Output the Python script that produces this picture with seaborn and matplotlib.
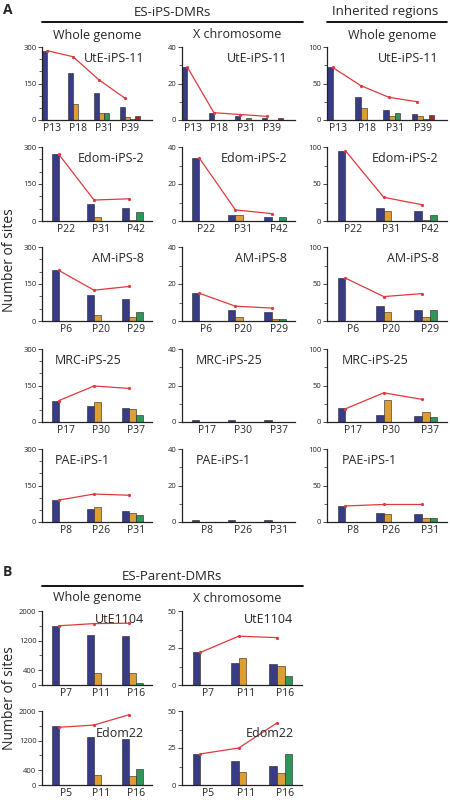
import matplotlib
matplotlib.use("Agg")
import matplotlib.pyplot as plt
import seaborn as sns
import pandas as pd
import numpy as np
from matplotlib.ticker import MultipleLocator, FixedLocator

sns.set_style("white")
plt.rcParams['font.family'] = ['Open Sans', 'DejaVu Sans']

series = ["s1", "s2", "s3", "s4"]
colors = ["#2b3192", "#f7a21b", "#1fa654", "#b5121b"]

# ---- Panel A data ----
ute_p = ["P13", "P18", "P31", "P39"]
ute_wg = [[285, 0, 0, 0], [195, 65, 0, 0], [110, 28, 28, 0], [55, 13, 5, 15]]
ute_wg_line = [285, 260, 165, 90]
ute_x = [[29, 0, 0, 0], [4, 0, 0, 0], [2, 0, 1, 0], [1, 0, 0, 1]]
ute_x_line = [29, 4, 3, 2]
ute_in = [[72, 0, 0, 0], [31, 16, 0, 0], [14, 6, 9, 0], [8, 6, 2, 7]]
ute_in_line = [72, 47, 31, 25]

edom_p = ["P22", "P31", "P42"]
edom_wg = [[270, 0, 0, 0], [70, 17, 0, 0], [53, 3, 35, 0]]
edom_wg_line = [270, 85, 90]
edom_x = [[34, 0, 0, 0], [3, 3, 0, 0], [2, 0, 2, 0]]
edom_x_line = [34, 6, 4]
edom_in = [[95, 0, 0, 0], [18, 14, 0, 0], [13, 2, 8, 0]]
edom_in_line = [95, 32, 22]

am_p = ["P6", "P20", "P29"]
am_wg = [[205, 0, 0, 0], [105, 23, 0, 0], [90, 15, 35, 0]]
am_wg_line = [205, 125, 140]
am_x = [[15, 0, 0, 0], [6, 2, 0, 0], [5, 1, 1, 0]]
am_x_line = [15, 8, 7]
am_in = [[58, 0, 0, 0], [20, 12, 0, 0], [15, 6, 15, 0]]
am_in_line = [58, 33, 37]

mrc_p = ["P17", "P30", "P37"]
mrc_wg = [[88, 0, 0, 0], [65, 83, 0, 0], [57, 55, 27, 0]]
mrc_wg_line = [88, 148, 138]
mrc_x = [[1, 0, 0, 0], [1, 0, 0, 0], [1, 0, 0, 0]]
mrc_x_line = None
mrc_in = [[19, 0, 0, 0], [10, 30, 0, 0], [8, 14, 7, 0]]
mrc_in_line = [18, 40, 31]

pae_p = ["P8", "P26", "P31"]
pae_wg = [[90, 0, 0, 0], [55, 60, 0, 0], [45, 35, 28, 0]]
pae_wg_line = [90, 115, 110]
pae_x = [[1, 0, 0, 0], [1, 0, 0, 0], [1, 0, 0, 0]]
pae_x_line = None
pae_in = [[22, 0, 0, 0], [12, 11, 0, 0], [11, 6, 6, 0]]
pae_in_line = [22, 24, 24]

# ---- Panel B data ----
ut1104_p = ["P7", "P11", "P16"]
ut1104_wg = [[1600, 0, 0, 0], [1340, 320, 0, 0], [1320, 320, 60, 0]]
ut1104_wg_line = [1600, 1660, 1670]
ut1104_x = [[22, 0, 0, 0], [15, 18, 0, 0], [14, 13, 6, 0]]
ut1104_x_line = [22, 33, 32]

edom22_p = ["P5", "P11", "P16"]
edom22_wg = [[1600, 0, 0, 0], [1300, 270, 0, 0], [1230, 230, 430, 0]]
edom22_wg_line = [1560, 1620, 1900]
edom22_x = [[21, 0, 0, 0], [16, 9, 0, 0], [13, 8, 21, 0]]
edom22_x_line = [21, 25, 42]

fig = plt.figure(figsize=(4.5, 8), dpi=100)
W, H = 450, 800


def add_ax(x0, y0, x1, y1):
    return fig.add_axes([x0 / W, 1 - y1 / H, (x1 - x0) / W, (y1 - y0) / H])


def panel(ax, passages, vals, line, ymax, major, minor, label, lab_left):
    rows = []
    for p, v in zip(passages, vals):
        for s, h in zip(series, v):
            rows.append((p, s, h if h > 0 else np.nan))
    df = pd.DataFrame(rows, columns=["p", "s", "v"])
    sns.barplot(data=df, x="p", y="v", hue="s", hue_order=series, order=passages,
                palette=colors, width=0.8, edgecolor="#222222", linewidth=0.4,
                legend=False, ax=ax)
    if line is not None:
        xs = np.arange(len(passages)) - 0.2
        ax.plot(xs, line, color="#e0393e", lw=0.9, marker="o", ms=1.3)
    n = len(passages)
    if n == 4:
        ax.set_xlim(-0.4, 3.85)
    else:
        ax.set_xlim(-0.68, 2.45)
    ax.set_ylim(0, ymax)
    ax.yaxis.set_major_locator(FixedLocator(major))
    ax.yaxis.set_minor_locator(MultipleLocator(minor))
    ax.tick_params(axis="y", which="major", length=3, width=0.6, labelsize=5.5, pad=1, left=True)
    ax.tick_params(axis="y", which="minor", length=2, width=0.5, left=True)
    ax.tick_params(axis="x", length=0, labelsize=7.5, pad=2)
    ax.set_xlabel("")
    ax.set_ylabel("")
    for s in ["top", "right"]:
        ax.spines[s].set_visible(False)
    for s in ["left", "bottom"]:
        ax.spines[s].set_color("#222222")
        ax.spines[s].set_linewidth(0.9)
    if lab_left:
        ax.text(0.12, 0.84, label, transform=ax.transAxes, ha="left", va="center", fontsize=9)
    else:
        ax.text(0.93, 0.84, label, transform=ax.transAxes, ha="right", va="center", fontsize=9)


colx = [(42, 152), (182, 295), (327, 447)]
rowy = [(47, 120), (147, 221), (247, 321), (349, 422), (449, 522)]
A = [
    ("UtE-iPS-11", ute_p, [(ute_wg, ute_wg_line), (ute_x, ute_x_line), (ute_in, ute_in_line)], False),
    ("Edom-iPS-2", edom_p, [(edom_wg, edom_wg_line), (edom_x, edom_x_line), (edom_in, edom_in_line)], False),
    ("AM-iPS-8", am_p, [(am_wg, am_wg_line), (am_x, am_x_line), (am_in, am_in_line)], False),
    ("MRC-iPS-25", mrc_p, [(mrc_wg, mrc_wg_line), (mrc_x, mrc_x_line), (mrc_in, mrc_in_line)], True),
    ("PAE-iPS-1", pae_p, [(pae_wg, pae_wg_line), (pae_x, pae_x_line), (pae_in, pae_in_line)], True),
]
scales = [(300, [0, 150, 300], 50), (40, [0, 20, 40], 10), (100, [0, 50, 100], 25)]
for r, (lab, ps, data, left) in enumerate(A):
    for c in range(3):
        ax = add_ax(colx[c][0], rowy[r][0], colx[c][1], rowy[r][1])
        vals, line = data[c]
        ymax, major, minor = scales[c]
        panel(ax, ps, vals, line, ymax, major, minor, lab, left)

colxB = [(42, 152), (182, 302)]
rowyB = [(611, 685), (711, 785)]
B = [
    ("UtE1104", ut1104_p, [(ut1104_wg, ut1104_wg_line), (ut1104_x, ut1104_x_line)]),
    ("Edom22", edom22_p, [(edom22_wg, edom22_wg_line), (edom22_x, edom22_x_line)]),
]
scalesB = [(2000, [0, 400, 1200, 2000], 400), (50, [0, 25, 50], 12.5)]
for r, (lab, ps, data) in enumerate(B):
    for c in range(2):
        ax = add_ax(colxB[c][0], rowyB[r][0], colxB[c][1], rowyB[r][1])
        vals, line = data[c]
        ymax, major, minor = scalesB[c]
        panel(ax, ps, vals, line, ymax, major, minor, lab, False)
        ax.texts[-1].set_position((0.93, 0.88 if r == 0 else 0.7))

def ftext(x, y, s, **kw):
    fig.text(x / W, 1 - y / H, s, **kw)

def hline(x0, x1, y):
    fig.add_artist(plt.Line2D([x0 / W, x1 / W], [1 - y / H, 1 - y / H], color="black", lw=1.3))

ftext(3, 10, "A", fontsize=10, fontweight="bold", va="center")
ftext(172, 12, "ES-iPS-DMRs", fontsize=9.5, ha="center", va="center")
hline(42, 303, 22)
ftext(385, 12, "Inherited regions", fontsize=9.5, ha="center", va="center")
hline(327, 447, 22)
for x, s in [(97, "Whole genome"), (237, "X chromosome"), (392, "Whole genome")]:
    ftext(x, 35, s, fontsize=9, ha="center", va="center")
ftext(10, 260, "Number of sites", fontsize=10, rotation=90, ha="center", va="center")

ftext(3, 572, "B", fontsize=10, fontweight="bold", va="center")
ftext(172, 577, "ES-Parent-DMRs", fontsize=9.5, ha="center", va="center")
hline(42, 303, 586)
for x, s in [(97, "Whole genome"), (237, "X chromosome")]:
    ftext(x, 598, s, fontsize=9, ha="center", va="center")
ftext(10, 698, "Number of sites", fontsize=10, rotation=90, ha="center", va="center")

fig.savefig("out.png", dpi=100)
